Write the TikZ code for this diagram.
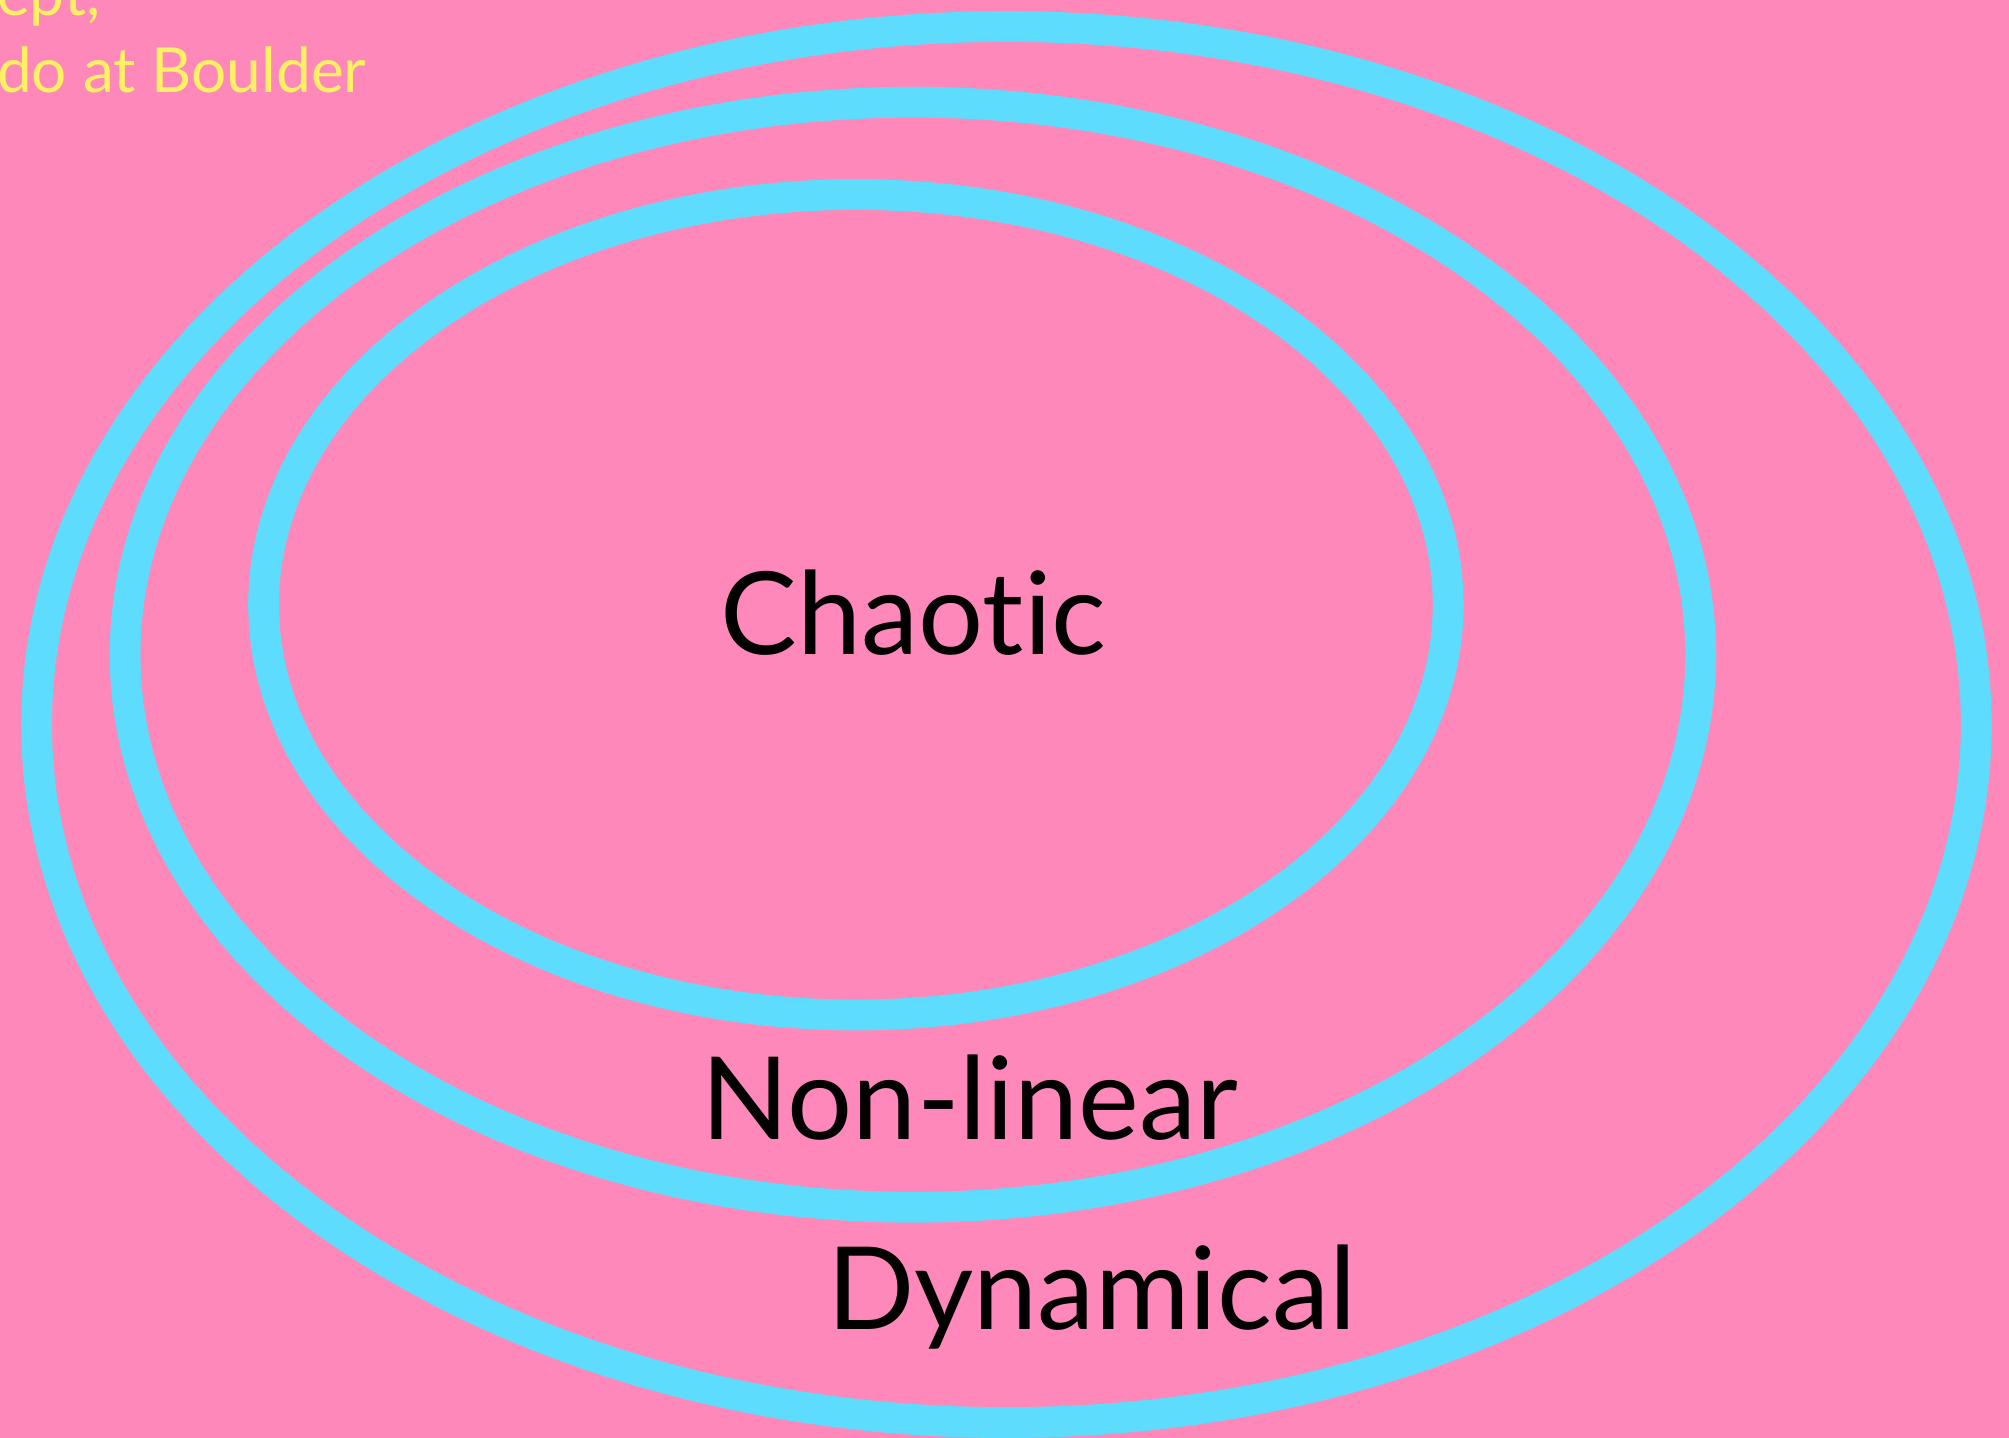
\documentclass[tikz,border=0pt]{standalone}
\usepackage{fontspec}
\setmainfont{Lato}[Ligatures=NoCommon]
\definecolor{bgpink}{RGB}{255,136,186}
\definecolor{ringcyan}{RGB}{94,220,253}
\definecolor{noteyellow}{RGB}{255,240,100}
\begin{document}
\begin{tikzpicture}[x=0.01cm,y=-0.01cm,
  ring/.style={draw=ringcyan,line width=0.24cm},
  label/.style={font=\fontsize{25.5}{30}\selectfont,text=black,inner sep=0pt},
  note/.style={font=\fontsize{13.8}{16}\selectfont,text=noteyellow,inner sep=0pt,anchor=base west}]
\fill[bgpink] (0,0) rectangle (1568,1122);
\useasboundingbox (0,0) rectangle (1568,1122);
\draw[ring] (785.5,565.5) ellipse [x radius=7.565cm, y radius=5.445cm];
\draw[ring] (712.5,511) ellipse [x radius=6.145cm, y radius=4.31cm];
\draw[ring] (668,472) ellipse [x radius=4.62cm, y radius=3.2cm];
\node[label] (chaotic) at (713,478) {Chaotic};
\node[label] (nonlinear) at (757,857) {Non-linear};
\node[label] (dynamical) at (852,1012) {Dynamical};
\node[note] (n1) at (-3,12) {ept,};
\node[note] (n2) at (-3,72) {do at Boulder};
\end{tikzpicture}
\end{document}
